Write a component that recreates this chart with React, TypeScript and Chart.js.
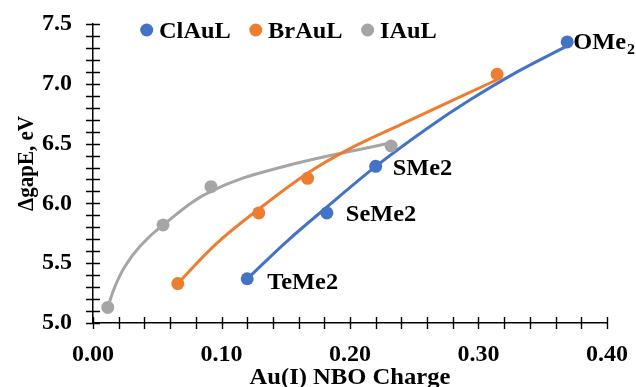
import React, { useEffect, useRef } from "react";
import { Chart, registerables } from "chart.js";

Chart.register(...registerables);

// ---------- data ----------
const seriesNames = ["ClAuL", "BrAuL", "IAuL"];
const seriesColors = ["#4472C4", "#ED7D31", "#A5A5A5"];

// measured points (Au(I) NBO charge, ΔgapE in eV)
const clX = [0.12, 0.182, 0.22, 0.369];
const clY = [5.37, 5.92, 6.31, 7.35];
const brX = [0.066, 0.129, 0.167, 0.3145];
const brY = [5.33, 5.92, 6.21, 7.08];
const iX = [0.0115, 0.0545, 0.0918, 0.232];
const iY = [5.13, 5.82, 6.14, 6.48];

// trend curves
const clTrendX = [0.1198, 0.1509, 0.1821, 0.2203, 0.26, 0.2935, 0.3301, 0.3691];
const clTrendY = [5.366, 5.683, 5.97, 6.312, 6.627, 6.866, 7.1, 7.317];
const brTrendX = [0.0661, 0.0965, 0.129, 0.1673, 0.1977, 0.239, 0.3148];
const brTrendY = [5.332, 5.668, 5.952, 6.254, 6.446, 6.657, 7.036];
const iTrendX = [0.0115, 0.0169, 0.0247, 0.0364, 0.0543, 0.0917, 0.1455, 0.2312];
const iTrendY = [5.131, 5.3, 5.47, 5.64, 5.818, 6.1, 6.3, 6.505];

// ligand labels on the ClAuL points
const ligandLabels = ["TeMe2", "SeMe2", "SMe2", "OMe"];
const ligandSubscripts = ["", "", "", "2"];

// axes
const xMin = 0, xMax = 0.4, xMajor = 0.1, xMinor = 0.02;
const yMin = 5.0, yMax = 7.5, yMajor = 0.5, yMinor = 0.1;
const xTitle = "Au(I) NBO Charge";
const yTitle = "ΔgapE, eV";

// ---------- style ----------
const FONT = "'Liberation Serif', 'Times New Roman', serif";
const FS = 23;
const TICK_FS = 24;
const SX = 1.06;
const labelOffsets = [[20, 10], [19, 8], [17, 9], [6, 7]];

const zip = (xs: number[], ys: number[]) => xs.map((x, i) => ({ x, y: ys[i] }));

function wideText(ctx: any, text: string, x: number, y: number, sx: number) {
  ctx.save();
  ctx.translate(x, y);
  ctx.scale(sx, 1);
  ctx.fillText(text, 0, 0);
  ctx.restore();
}

const zeroPad = (s: any) => {
  s.paddingTop = 0;
  s.paddingBottom = 0;
  s.paddingLeft = 0;
  s.paddingRight = 0;
};

const decorPlugin = {
  id: "decor",
  beforeDatasetsDraw(chart: any) {
    const { ctx, chartArea: ca, scales } = chart;
    const xs = scales.x, ys = scales.y;
    ctx.save();
    ctx.strokeStyle = "#000";
    ctx.lineWidth = 1.4;
    ctx.beginPath();
    const ny = Math.round((yMax - yMin) / yMinor);
    for (let i = 0; i <= ny; i++) {
      const py = Math.round(ys.getPixelForValue(yMin + i * yMinor)) + 0.5;
      ctx.moveTo(ca.left - 7, py);
      ctx.lineTo(ca.left + 7, py);
    }
    const nx = Math.round((xMax - xMin) / xMinor);
    for (let i = 0; i <= nx; i++) {
      const px = Math.round(xs.getPixelForValue(xMin + i * xMinor)) + 0.5;
      ctx.moveTo(px, ca.bottom - 6);
      ctx.lineTo(px, ca.bottom + 6);
    }
    ctx.stroke();
    ctx.restore();
  },
  afterDraw(chart: any) {
    const { ctx, chartArea: ca } = chart;
    ctx.save();
    ctx.fillStyle = "#000";
    ctx.font = `bold ${FS}px ${FONT}`;
    ctx.textAlign = "left";
    ctx.textBaseline = "alphabetic";
    // legend
    let lx = 146.7;
    const ly = 30;
    seriesNames.forEach((name, i) => {
      ctx.fillStyle = seriesColors[i];
      ctx.beginPath();
      ctx.arc(lx, ly, 6.5, 0, Math.PI * 2);
      ctx.fill();
      ctx.fillStyle = "#000";
      wideText(ctx, name, lx + 12.3, ly + 7.5, SX);
      lx += 12.3 + ctx.measureText(name).width * SX + 25;
    });
    // ligand labels
    const meta = chart.getDatasetMeta(0);
    meta.data.forEach((pt: any, i: number) => {
      const [dx, dy] = labelOffsets[i];
      ctx.font = `bold ${FS}px ${FONT}`;
      wideText(ctx, ligandLabels[i], pt.x + dx, pt.y + dy, SX);
      if (ligandSubscripts[i]) {
        const w = ctx.measureText(ligandLabels[i]).width * SX;
        ctx.font = `bold ${Math.round(FS * 0.65)}px ${FONT}`;
        wideText(ctx, ligandSubscripts[i], pt.x + dx + w + 1, pt.y + dy + 5, SX);
      }
    });
    // axis titles
    ctx.font = `bold ${FS}px ${FONT}`;
    ctx.textAlign = "center";
    wideText(ctx, xTitle, (ca.left + ca.right) / 2, 384, 1.07);
    ctx.font = `bold 21px ${FONT}`;
    ctx.translate(33, (ca.top + ca.bottom) / 2 - 10);
    ctx.rotate(-Math.PI / 2);
    ctx.scale(1, 1.06);
    ctx.fillText(yTitle, 0, 0);
    ctx.restore();
  },
};

export default function App() {
  const ref = useRef<HTMLCanvasElement | null>(null);
  useEffect(() => {
    document.body.style.margin = "0";
    const canvas = ref.current;
    if (!canvas) return;
    const pointDs = (xs: number[], ys: number[], i: number) => ({
      label: seriesNames[i],
      data: zip(xs, ys),
      showLine: false,
      pointRadius: 6.5,
      pointHoverRadius: 6.5,
      pointBackgroundColor: seriesColors[i],
      pointBorderWidth: 0,
      borderColor: seriesColors[i],
      backgroundColor: seriesColors[i],
      order: 0,
    });
    const trendDs = (xs: number[], ys: number[], i: number) => ({
      label: seriesNames[i] + " trend",
      data: zip(xs, ys),
      showLine: true,
      pointRadius: 0,
      borderColor: seriesColors[i],
      borderWidth: 3,
      tension: 0.4,
      fill: false,
      order: 1,
    });
    const chart = new Chart(canvas, {
      type: "scatter",
      data: {
        datasets: [
          pointDs(clX, clY, 0),
          pointDs(brX, brY, 1),
          pointDs(iX, iY, 2),
          trendDs(clTrendX, clTrendY, 0),
          trendDs(brTrendX, brTrendY, 1),
          trendDs(iTrendX, iTrendY, 2),
        ] as any,
      },
      options: {
        responsive: false,
        animation: false,
        layout: { padding: { left: 0, top: 24, right: 29, bottom: 0 } },
        plugins: { legend: { display: false }, tooltip: { enabled: false } },
        scales: {
          x: {
            type: "linear",
            min: xMin,
            max: xMax,
            grid: { display: false, drawTicks: false },
            border: { display: true, color: "#000", width: 1.5 },
            ticks: {
              stepSize: xMajor,
              padding: 17,
              color: "#000",
              font: { family: FONT, size: TICK_FS, weight: "bold" },
              callback: (v: any) => Number(v).toFixed(2),
            },
            afterFit: (s: any) => { s.height = 64; zeroPad(s); },
          },
          y: {
            type: "linear",
            min: yMin,
            max: yMax,
            grid: { display: false, drawTicks: false },
            border: { display: true, color: "#000", width: 1.5 },
            ticks: {
              stepSize: yMajor,
              padding: 21,
              color: "#000",
              font: { family: FONT, size: TICK_FS, weight: "bold" },
              callback: (v: any) => Number(v).toFixed(1),
            },
            afterFit: (s: any) => { s.width = 93; zeroPad(s); },
          },
        },
      } as any,
      plugins: [decorPlugin],
    });
    return () => chart.destroy();
  }, []);
  return <canvas ref={ref} width={636} height={387} style={{ display: "block" }} />;
}
